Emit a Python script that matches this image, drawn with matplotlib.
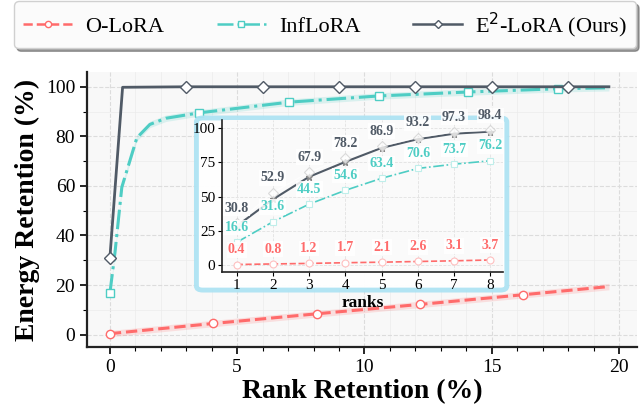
import numpy as np
import matplotlib.pyplot as plt
from matplotlib.patches import FancyBboxPatch
from matplotlib.lines import Line2D
from matplotlib.ticker import MultipleLocator

plt.rcParams['font.family'] = ['Liberation Serif', 'DejaVu Serif']
plt.rcParams['mathtext.fontset'] = 'dejavusans'

c_olora = '#ff6b6b'
c_inf = '#4ecdc4'
c_e2 = '#505a66'

# main panel data (rank retention %, energy retention %)
olora_x = [0, 4.06, 8.12, 12.18, 16.24, 19.6]
olora_y = [0.4, 4.5, 8.4, 12.2, 16.1, 19.4]
olora_mk = [0, 1, 2, 3, 4]

inf_x = [0, 0.2, 0.47, 1.06, 1.57, 2.2, 3.52, 7.04, 10.56, 14.08, 17.6, 19.6]
inf_y = [16.6, 33.0, 59.5, 79.4, 84.8, 87.3, 89.5, 93.8, 96.3, 97.9, 99.2, 99.6]
inf_mk = [0, 6, 7, 8, 9, 10]

e2_x = [0, 0.5, 3, 6, 9, 12, 15, 18, 19.6]
e2_y = [30.8, 99.8, 100, 100, 100, 100, 100, 100, 100]
e2_mk = [0, 2, 3, 4, 5, 6, 7]

# inset data (first 8 ranks)
ranks = [1, 2, 3, 4, 5, 6, 7, 8]
olora_r = [0.4, 0.8, 1.2, 1.7, 2.1, 2.6, 3.1, 3.7]
inf_r = [16.6, 31.6, 44.5, 54.6, 63.4, 70.6, 73.7, 76.2]
e2_r = [30.8, 52.9, 67.9, 78.2, 86.9, 93.2, 97.3, 98.4]
e2_r_low = [28.5, 48.0, 64.5, 75.4, 85.6, 92.0, 96.0, 97.5]

fig = plt.figure(figsize=(6.44, 4.04), dpi=100)
ax = fig.add_axes([0.135, 0.141, 0.854, 0.681])
ax.set_facecolor('#f8f8f8')

def band(a, x, y, c):
    y = np.array(y)
    a.fill_between(x, y - 1.3, y + 1.3, color=c, alpha=0.18, lw=0, zorder=2)

band(ax, olora_x, olora_y, c_olora)
band(ax, inf_x, inf_y, c_inf)

ax.plot(olora_x, olora_y, '--', color=c_olora, lw=2.2, marker='o', ms=6,
        mfc='white', mec=c_olora, mew=1.0, markevery=olora_mk, zorder=3)
ax.plot(inf_x, inf_y, '-.', color=c_inf, lw=2.2, marker='s', ms=6,
        mfc='white', mec=c_inf, mew=1.0, markevery=inf_mk, zorder=3)
ax.plot(e2_x, e2_y, '-', color=c_e2, lw=2.0, marker='D', ms=6,
        mfc='white', mec=c_e2, mew=1.0, markevery=e2_mk, zorder=4)

ax.set_xlim(-0.9, 20.7)
ax.set_ylim(-5, 106)
ax.xaxis.set_major_locator(MultipleLocator(5))
ax.xaxis.set_minor_locator(MultipleLocator(1))
ax.yaxis.set_major_locator(MultipleLocator(20))
ax.yaxis.set_minor_locator(MultipleLocator(10))
ax.grid(which='major', color='#dcdcdc', ls='--', lw=0.8)
ax.grid(which='minor', color='#ececec', ls='-', lw=0.5)
ax.set_axisbelow(True)
for s in ['top', 'right']:
    ax.spines[s].set_visible(False)
for s in ['left', 'bottom']:
    ax.spines[s].set_linewidth(1.6)
    ax.spines[s].set_color('#222222')
ax.tick_params(which='major', labelsize=14, length=5, width=1.2)
ax.tick_params(which='minor', length=3, width=0.8)
ax.set_xlabel('Rank Retention (%)', fontsize=20, fontweight='bold', labelpad=2)
ax.set_ylabel('Energy Retention (%)', fontsize=20, fontweight='bold', labelpad=4)

# box round the inset
box = FancyBboxPatch((0.305, 0.282), 0.482, 0.426, boxstyle='round,pad=0,rounding_size=0.01',
                     transform=fig.transFigure, facecolor='white', edgecolor='#aee3f3',
                     lw=3.5, alpha=0.95, zorder=5)
fig.patches.append(box)

ins = fig.add_axes([0.345, 0.327, 0.436, 0.376])
ins.set_zorder(6)
ins.set_facecolor('#fafafa')
ins.plot(ranks, olora_r, '--', color=c_olora, lw=1.2, marker='o', ms=5,
         mfc='white', mec='#ffc0c0', mew=0.8)
ins.plot(ranks, inf_r, '-.', color=c_inf, lw=1.2, marker='s', ms=4.5,
         mfc='white', mec='#bfeeea', mew=0.8)
ins.plot(ranks, e2_r_low, '-', color=c_e2, lw=1.5, marker='*', ms=5, mfc='#888888',
         mec='#888888', zorder=3)
ins.plot(ranks, e2_r, '-', color='white', lw=1.0, alpha=0.7, marker='D', ms=5,
         mfc='white', mec='#cccccc', mew=0.8, zorder=4)

for xs, ys, c in [(ranks, olora_r, c_olora), (ranks, inf_r, c_inf), (ranks, e2_r, c_e2)]:
    for x, y in zip(xs, ys):
        ins.annotate(f'{y:.1f}', (x, y), xytext=(0, 6), textcoords='offset points',
                     ha='center', va='bottom', fontsize=10, fontweight='bold', color=c,
                     bbox=dict(boxstyle='square,pad=0.1', fc='white', ec='none', alpha=0.85),
                     zorder=5)

ins.set_xlim(0.6, 8.35)
ins.set_ylim(-5, 106)
ins.set_xticks(ranks)
ins.set_yticks([0, 25, 50, 75, 100])
ins.grid(color='#e2e2e2', ls='--', lw=0.6)
ins.set_axisbelow(True)
for s in ['top', 'right']:
    ins.spines[s].set_visible(False)
for s in ['left', 'bottom']:
    ins.spines[s].set_linewidth(1.2)
    ins.spines[s].set_color('#222222')
ins.tick_params(labelsize=11, length=3, pad=2)
ins.set_xlabel('ranks', fontsize=12.5, fontweight='bold', labelpad=2)

# legend proxies with smaller markers, as in the figure
h1 = Line2D([], [], ls='--', color=c_olora, lw=1.8, marker='o', ms=4.5, mfc='white', mec=c_olora)
h2 = Line2D([], [], ls='-.', color=c_inf, lw=1.8, marker='s', ms=4.5, mfc='white', mec=c_inf)
h3 = Line2D([], [], ls='-', color=c_e2, lw=1.8, marker='D', ms=4.5, mfc='white', mec=c_e2)
leg = fig.legend(handles=[h1, h2, h3], labels=['O-LoRA', 'InfLoRA', r'E$^2$-LoRA (Ours)'],
                 loc='lower left', bbox_to_anchor=(0.022, 0.880, 0.966, 0.112),
                 mode='expand', ncol=3, fontsize=16, frameon=True, fancybox=True, shadow=True,
                 handlelength=2.2, handletextpad=0.6, borderaxespad=0, edgecolor='#d0d0d0')
leg.get_frame().set_facecolor('#fbfbfb')

plt.savefig('out.png', dpi=100)
